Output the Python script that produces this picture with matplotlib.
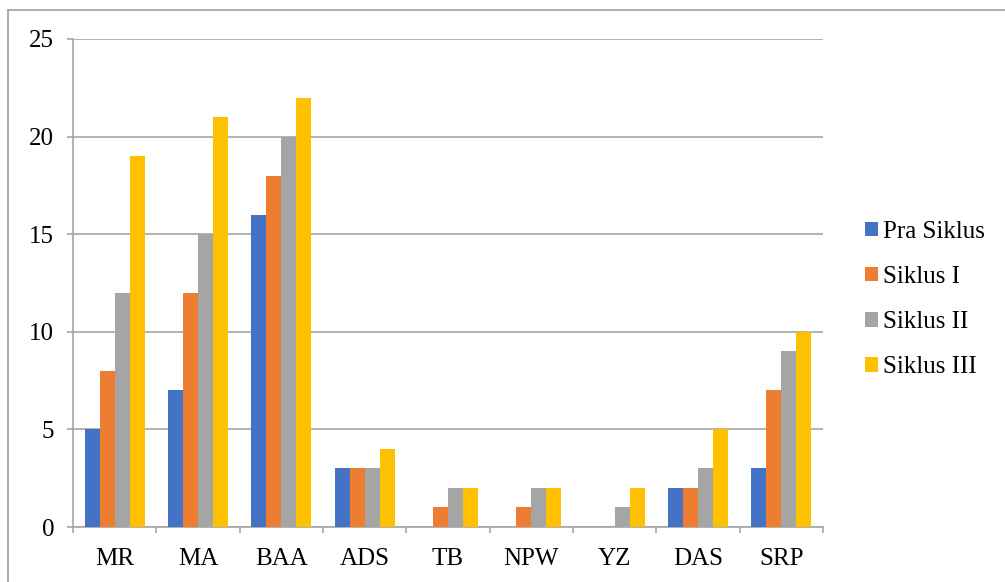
import matplotlib.pyplot as plt
import numpy as np
from matplotlib.lines import Line2D

categories = ["MR", "MA", "BAA", "ADS", "TB", "NPW", "YZ", "DAS", "SRP"]
pra_siklus = [5, 7, 16, 3, 0, 0, 0, 2, 3]
siklus_1 = [8, 12, 18, 3, 1, 1, 0, 2, 7]
siklus_2 = [12, 15, 20, 3, 2, 2, 1, 3, 9]
siklus_3 = [19, 21, 22, 4, 2, 2, 2, 5, 10]
series_names = ["Pra Siklus", "Siklus I", "Siklus II", "Siklus III"]
colors = ["#4472C4", "#ED7D31", "#A5A5A5", "#FFC000"]

plt.rcParams['font.family'] = ['Liberation Serif', 'DejaVu Serif']
grid_col = "#A6A6A6"

fig = plt.figure(figsize=(10.05, 5.82), dpi=100)
ax = fig.add_axes([0.0726, 0.0945, 0.7463, 0.8385])

x = np.arange(len(categories))
w = 0.18
all_series = [pra_siklus, siklus_1, siklus_2, siklus_3]
for i, vals in enumerate(all_series):
    ax.bar(x + (i - 1.5) * w, vals, w, color=colors[i], label=series_names[i],
           zorder=3)

ax.set_xlim(-0.5, len(categories) - 0.5)
ax.set_ylim(0, 25)
ax.set_yticks(range(0, 26, 5))
ax.grid(axis='y', color=grid_col, linewidth=1.2, zorder=0)

for s in ['top', 'right']:
    ax.spines[s].set_visible(False)
ax.spines['left'].set_color(grid_col)
ax.spines['bottom'].set_color(grid_col)
ax.spines['left'].set_linewidth(1.2)
ax.spines['bottom'].set_linewidth(1.2)

ax.set_xticks(x)
ax.set_xticklabels(categories)
ax.set_xticks(np.arange(-0.5, len(categories), 1), minor=True)
ax.tick_params(axis='x', which='major', length=0, pad=15, labelsize=18)
ax.tick_params(axis='x', which='minor', length=4.5, color=grid_col, width=1.2)
ax.tick_params(axis='y', length=4.5, color=grid_col, width=1.2, pad=9,
               labelsize=18)

ax.legend(loc='center left', bbox_to_anchor=(1.056, 0.466), frameon=False,
          fontsize=18, handlelength=0.52, handleheight=0.52,
          labelspacing=0.93, handletextpad=0.2, borderaxespad=0,
          borderpad=0)

# outer frame lines
fig.add_artist(Line2D([0.008, 0.008], [0, 0.983], color="#A0A0A0",
                      linewidth=1.2, transform=fig.transFigure))
fig.add_artist(Line2D([0.008, 1.0], [0.983, 0.983], color="#A0A0A0",
                      linewidth=1.2, transform=fig.transFigure))

fig.savefig("out.png", dpi=100)
